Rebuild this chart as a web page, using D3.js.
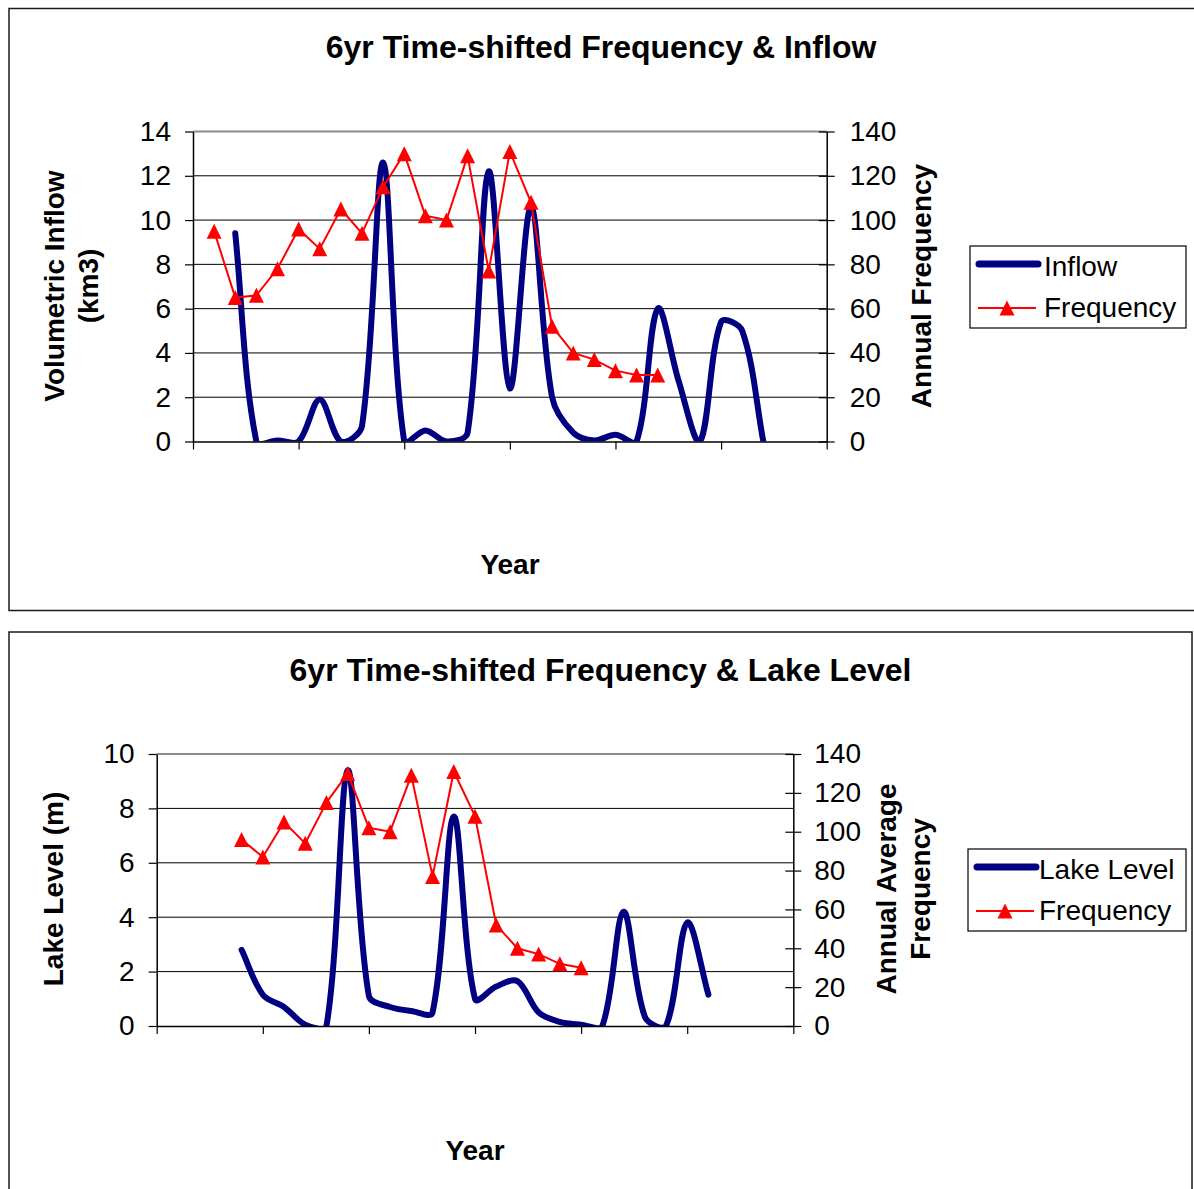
<!DOCTYPE html>
<html>
<head>
<meta charset="utf-8">
<script src="https://cdn.jsdelivr.net/npm/d3@7"></script>
<style>
  body { margin: 0; background: #fff; }
  svg { display: block; font-family: "Liberation Sans", Arial, sans-serif; }
</style>
</head>
<body>
<svg id="chart" width="1194" height="1189"></svg>
<script>
// Category slots along the year axis (tick mark every 5th slot)
const categories = d3.range(31);
const yearTicks = [0, 5, 10, 15, 20, 25, 30];

// Chart 1: volumetric inflow (km3) and 6yr time-shifted annual frequency
const inflow = [null, null, 9.4, 0, 0.05, 0, 1.9, 0, 0.7, 12.6, 0, 0.5, 0, 0.4, 12.2, 2.4,
  10.6, 2.0, 0.4, 0.05, 0.3, 0, 6.0, 2.7, 0, 5.4, 5.0, 0, null, null, null];
const frequencyInflowChart = [null, 95, 65, 66, 78, 96, 87, 105, 94, 115, 130, 102, 100, 129, 77,
  131, 108, 52, 40, 37, 32, 30, 30, null, null, null, null, null, null, null, null];
const inflowTicks = [0, 2, 4, 6, 8, 10, 12, 14];

// Chart 2: lake level (m) and 6yr time-shifted annual average frequency
const lakeLevel = [null, null, null, null, 2.8, 1.15, 0.7, 0.05, 0, 9.4, 1.1, 0.7, 0.55, 0.5, 7.7,
  1.0, 1.45, 1.65, 0.5, 0.15, 0.05, 0, 4.2, 0.35, 0, 3.8, 1.15, null, null, null, null];
const frequencyLakeChart = [null, null, null, null, 96, 87, 105, 94, 115, 130, 102, 100, 129, 77,
  131, 108, 52, 40, 37, 32, 30, null, null, null, null, null, null, null, null, null, null];
const lakeTicks = [0, 2, 4, 6, 8, 10];

const frequencyTicks = [0, 20, 40, 60, 80, 100, 120, 140];

const NAVY = "#000080";
const RED = "#ff0000";

// Smoothed line in the spreadsheet style: Bezier arms along the neighbour
// tangent, each arm scaled by the length of the segment it belongs to.
function smoothCurve(context) {
  let pts = [];
  return {
    areaStart() {}, areaEnd() {},
    lineStart() { pts = []; },
    point(x, y) { pts.push([+x, +y]); },
    lineEnd() {
      const n = pts.length;
      if (!n) return;
      context.moveTo(pts[0][0], pts[0][1]);
      if (n === 1) return;
      const dist = (a, b) => Math.hypot(b[0] - a[0], b[1] - a[1]);
      const arms = pts.map((p, i) => {
        const prev = pts[Math.max(i - 1, 0)], next = pts[Math.min(i + 1, n - 1)];
        const dp = dist(prev, p), dn = dist(p, next);
        const s = (dp + dn) || 1;
        const tx = next[0] - prev[0], ty = next[1] - prev[1];
        return {
          inX: p[0] - tx * dp / (3 * s), inY: p[1] - ty * dp / (3 * s),
          outX: p[0] + tx * dn / (3 * s), outY: p[1] + ty * dn / (3 * s)
        };
      });
      for (let i = 0; i < n - 1; i++) {
        context.bezierCurveTo(arms[i].outX, arms[i].outY, arms[i + 1].inX, arms[i + 1].inY,
          pts[i + 1][0], pts[i + 1][1]);
      }
    }
  };
}

const trianglePath = s => `M0,${-s / 2}L${s / 2},${s / 2}L${-s / 2},${s / 2}Z`;

const svg = d3.select("#chart");

function drawChart(cfg) {
  const g = svg.append("g");

  // outer frame
  g.append("rect")
    .attr("x", cfg.frame[0]).attr("y", cfg.frame[1])
    .attr("width", cfg.frame[2]).attr("height", cfg.frame[3])
    .attr("fill", "#fff").attr("stroke", "#1a1a1a").attr("stroke-width", 1.5);

  const x = d3.scaleLinear().domain([0, categories.length - 1]).range([cfg.left, cfg.right]);
  const yL = d3.scaleLinear().domain([0, cfg.leftTicks[cfg.leftTicks.length - 1]]).range([cfg.bottom, cfg.top]);
  const yR = d3.scaleLinear().domain([0, 140]).range([cfg.bottom, cfg.top]);
  const topValue = cfg.leftTicks[cfg.leftTicks.length - 1];

  // horizontal gridlines
  g.append("g").selectAll("line")
    .data(cfg.leftTicks.filter(v => v > 0))
    .join("line")
    .attr("x1", cfg.left).attr("x2", cfg.right)
    .attr("y1", d => yL(d)).attr("y2", d => yL(d))
    .attr("stroke", d => d === topValue ? "#8c8c8c" : "#000")
    .attr("stroke-width", d => d === topValue ? 2 : 1);

  // primary series (smoothed, thick navy), clipped to the plot area
  const clipId = "clip-" + cfg.id;
  g.append("clipPath").attr("id", clipId).append("rect")
    .attr("x", cfg.left).attr("y", cfg.top - 10)
    .attr("width", cfg.right - cfg.left).attr("height", cfg.bottom - cfg.top + 10);

  const primary = categories.map(i => ({ i, v: cfg.primary[i] }));
  const primaryLine = d3.line()
    .defined(d => d.v != null)
    .x(d => x(d.i)).y(d => yL(d.v))
    .curve(smoothCurve);
  g.append("path")
    .attr("clip-path", `url(#${clipId})`)
    .attr("d", primaryLine(primary))
    .attr("fill", "none").attr("stroke", NAVY)
    .attr("stroke-width", 6).attr("stroke-linejoin", "round").attr("stroke-linecap", "round");

  // frequency series (straight red line with triangle markers)
  const freq = categories.map(i => ({ i, v: cfg.frequency[i] })).filter(d => d.v != null);
  const freqLine = d3.line().x(d => x(d.i)).y(d => yR(d.v));
  g.append("path")
    .attr("d", freqLine(freq))
    .attr("fill", "none").attr("stroke", RED).attr("stroke-width", 2);
  g.append("g").selectAll("path")
    .data(freq)
    .join("path")
    .attr("transform", d => `translate(${x(d.i)},${yR(d.v)})`)
    .attr("d", trianglePath(15))
    .attr("fill", RED);

  // left axis
  const left = g.append("g")
    .attr("transform", `translate(${cfg.left},0)`)
    .call(d3.axisLeft(yL).tickValues(cfg.leftTicks).tickSize(8).tickSizeOuter(0).tickPadding(14));
  // right axis (ticks cross the axis line)
  const right = g.append("g")
    .attr("transform", `translate(${cfg.right},0)`)
    .call(d3.axisRight(yR).tickValues(frequencyTicks).tickSize(8).tickSizeOuter(0).tickPadding(cfg.rightPad));
  right.selectAll(".tick line").attr("x1", -8);
  // bottom category axis
  const bottom = g.append("g")
    .attr("transform", `translate(0,${cfg.bottom})`)
    .call(d3.axisBottom(x).tickValues(yearTicks).tickSize(8).tickSizeOuter(0).tickFormat(""));

  [left, right, bottom].forEach(a => {
    a.select(".domain").attr("stroke", "#000").attr("stroke-width", 1.5);
    a.selectAll(".tick line").attr("stroke", "#000").attr("stroke-width", 1.2);
    a.selectAll(".tick text")
      .attr("font-size", 28).attr("fill", "#000")
      .attr("font-family", "'Liberation Sans', Arial, sans-serif");
  });

  // title
  g.append("text")
    .attr("x", cfg.titleX).attr("y", cfg.titleY)
    .attr("text-anchor", "middle").attr("font-size", 32).attr("font-weight", "bold")
    .text(cfg.title);

  // year axis title
  g.append("text")
    .attr("x", cfg.yearX).attr("y", cfg.yearY)
    .attr("text-anchor", "middle").attr("font-size", 28).attr("font-weight", "bold")
    .text("Year");

  // rotated axis titles
  const rotated = (lines, cx, cy) => {
    lines.forEach(([txt, bx]) => {
      g.append("text")
        .attr("transform", `translate(${bx},${cy}) rotate(-90)`)
        .attr("text-anchor", "middle").attr("font-size", 28).attr("font-weight", "bold")
        .text(txt);
    });
  };
  rotated(cfg.leftTitle, 0, cfg.titleMidY);
  rotated(cfg.rightTitle, 0, cfg.titleMidY);

  // legend
  const lg = g.append("g");
  const L = cfg.legend;
  lg.append("rect")
    .attr("x", L.x).attr("y", L.y).attr("width", L.w).attr("height", L.h)
    .attr("fill", "#fff").attr("stroke", "#000").attr("stroke-width", 1.2);
  lg.append("line")
    .attr("x1", L.x + 9).attr("x2", L.x + 68).attr("y1", L.y + 18).attr("y2", L.y + 18)
    .attr("stroke", NAVY).attr("stroke-width", 7).attr("stroke-linecap", "round");
  lg.append("text")
    .attr("x", L.x + L.textDx).attr("y", L.y + 30).attr("font-size", 28)
    .text(cfg.primaryName);
  lg.append("line")
    .attr("x1", L.x + 8).attr("x2", L.x + 66).attr("y1", L.y + 62).attr("y2", L.y + 62)
    .attr("stroke", RED).attr("stroke-width", 2);
  lg.append("path")
    .attr("transform", `translate(${L.x + 37},${L.y + 62})`)
    .attr("d", trianglePath(15)).attr("fill", RED);
  lg.append("text")
    .attr("x", L.x + L.textDx).attr("y", L.y + 71).attr("font-size", 28)
    .text("Frequency");
}

drawChart({
  id: "inflow",
  frame: [9, 8.5, 1200, 602],
  left: 193, right: 826.7, top: 131.5, bottom: 441.5,
  leftTicks: inflowTicks,
  rightPad: 15,
  primary: inflow,
  frequency: frequencyInflowChart,
  title: "6yr Time-shifted Frequency & Inflow",
  titleX: 601, titleY: 58,
  yearX: 510, yearY: 574,
  titleMidY: 286,
  leftTitle: [["Volumetric Inflow", 64], ["(km3)", 98]],
  rightTitle: [["Annual Frequency", 931]],
  primaryName: "Inflow",
  legend: { x: 970, y: 246, w: 216, h: 82, textDx: 74 }
});

drawChart({
  id: "lake",
  frame: [9, 632, 1183, 600],
  left: 156.7, right: 793.3, top: 754, bottom: 1026,
  leftTicks: lakeTicks,
  rightPad: 13,
  primary: lakeLevel,
  frequency: frequencyLakeChart,
  title: "6yr Time-shifted Frequency & Lake Level",
  titleX: 600.5, titleY: 681,
  yearX: 475, yearY: 1160,
  titleMidY: 889,
  leftTitle: [["Lake Level (m)", 63]],
  rightTitle: [["Annual Average", 896], ["Frequency", 930]],
  primaryName: "Lake Level",
  legend: { x: 968, y: 849, w: 218, h: 82, textDx: 71 }
});
</script>
</body>
</html>
